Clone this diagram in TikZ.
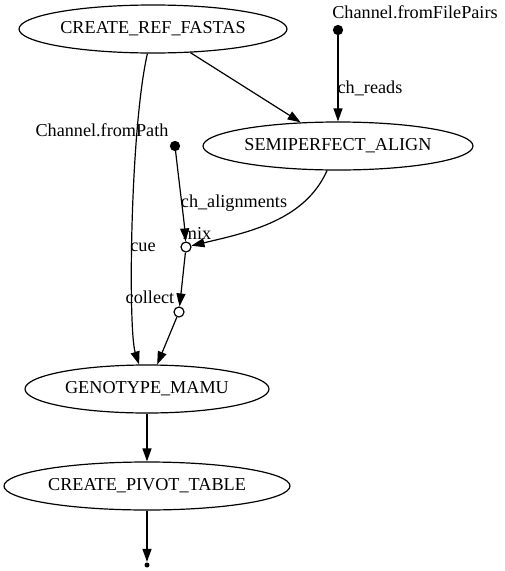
\documentclass[tikz,border=0pt]{standalone}
\usepackage{fontspec}
\setmainfont{Liberation Serif}
\usetikzlibrary{shapes.geometric,arrows.meta}
\begin{document}
\begin{tikzpicture}[x=1pt,y=-1pt,
  proc/.style={draw,ellipse,inner sep=0pt,minimum height=48pt,font=\fontsize{18.2}{20}\selectfont},
  src/.style={circle,fill=black,draw=black,inner sep=0pt,minimum size=9pt},
  op/.style={circle,fill=white,draw=black,inner sep=0pt,minimum size=10pt},
  lbl/.style={inner sep=0pt,font=\fontsize{18.2}{20}\selectfont},
  edge/.style={draw,line width=1.2pt,-{Triangle[length=13pt,width=9pt]}},
  every path/.style={line width=1.2pt}]
\useasboundingbox (0,0) rectangle (504,571);
\node[proc,minimum width=268pt] (crf) at (153,29) {CREATE\_REF\_FASTAS};
\node[proc,minimum width=270pt] (semi) at (338,146) {SEMIPERFECT\_ALIGN};
\node[proc,minimum width=244pt] (gen) at (147,389) {GENOTYPE\_MAMU};
\node[proc,minimum width=286pt] (piv) at (147,486) {CREATE\_PIVOT\_TABLE};
\node[src] (fp) at (338,30) {};
\node[lbl] (fplbl) at (415,12) {Channel.fromFilePairs};
\node[src] (fpath) at (175,146) {};
\node[lbl] (fpathlbl) at (102,130) {Channel.fromPath};
\node[op] (mix) at (186,247) {};
\node[op] (col) at (179,312) {};
\node[circle,fill=black,inner sep=0pt,minimum size=5pt] (end) at (147,565) {};
\node[lbl] (mixlbl) at (197,233) {mix};
\node[lbl] (collbl) at (150,297) {collect};
\node[lbl] (readslbl) at (370,88) {ch\_reads};
\node[lbl] (cuelbl) at (143,247) {cue};
\node[lbl] (alnlbl) at (234,203) {ch\_alignments};
\draw[edge] (fp) -- (semi);
\draw[edge] (crf) -- (semi);
\draw[edge] (crf) .. controls (130,130) and (128,330) .. (gen);
\draw[edge] (fpath) .. controls (180,190) and (184,220) .. (mix);
\draw[edge] (semi) .. controls (305,220) and (250,232) .. (mix);
\draw[edge] (mix) -- (col);
\draw[edge] (col) -- (gen);
\draw[edge] (gen) -- (piv);
\draw[edge] (piv) -- (end);
\end{tikzpicture}
\end{document}
